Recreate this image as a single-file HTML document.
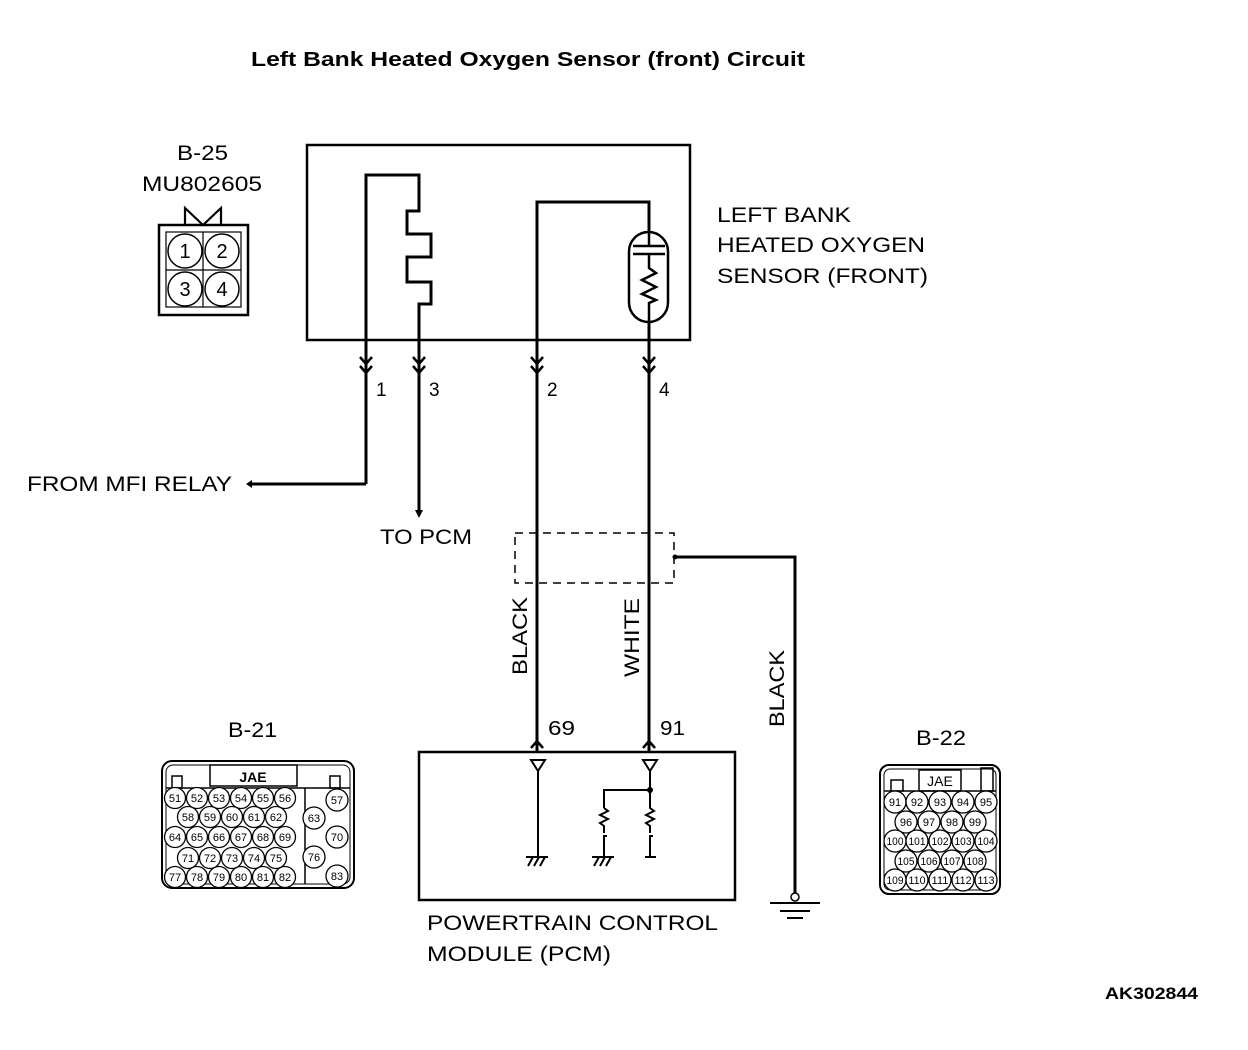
<!DOCTYPE html>
<html><head><meta charset="utf-8"><style>
html,body{margin:0;padding:0;background:#fff}
svg{display:block}
text{font-family:"Liberation Sans",Arial,sans-serif;fill:#000}
.p{font-size:11px;text-anchor:middle}
</style></head><body>
<svg width="1248" height="1050" viewBox="0 0 1248 1050" xmlns="http://www.w3.org/2000/svg">
<g fill="none" stroke="#000" stroke-width="3">
<rect x="307" y="145" width="383" height="195" stroke-width="2.5"/>
<polyline points="366,484 366,175 419,175 419,211 407,211 407,234 431,234 431,257 407,257 407,282 431,282 431,304 419,304 419,512"/>
<polyline points="537,752 537,202 649,202 649,752"/>
<polyline points="248,484 366,484"/>
<polyline points="675,557 795,557 795,893"/>
<rect x="419" y="752" width="316" height="148" stroke-width="2.5"/>
</g>
<rect x="629" y="232" width="39" height="90" rx="19.5" fill="#fff" stroke="#000" stroke-width="2.5"/>
<g stroke="#000" stroke-width="2.5" fill="none">
<line x1="649" y1="202" x2="649" y2="246"/>
<line x1="633" y1="246" x2="665" y2="246"/>
<line x1="633" y1="254" x2="665" y2="254"/>
<polyline points="649,254 649,268 656,273 642,280 656,287 642,294 656,300 649,303 649,340"/>
</g>
<g stroke="#000" stroke-width="2.5" fill="none">
<polyline points="360,357 366,364 372,357"/><polyline points="360,366 366,373 372,366"/>
<polyline points="413,357 419,364 425,357"/><polyline points="413,366 419,373 425,366"/>
<polyline points="531,357 537,364 543,357"/><polyline points="531,366 537,373 543,366"/>
<polyline points="643,357 649,364 655,357"/><polyline points="643,366 649,373 655,366"/>
<polyline points="531,748 537,741 543,748"/>
<polyline points="643,748 649,741 655,748"/>
</g>
<polygon points="415,510 423,510 419,518" fill="#000"/>
<polygon points="246,484 252,480 252,488" fill="#000"/>
<rect x="515" y="533" width="159" height="50" fill="none" stroke="#000" stroke-width="1.5" stroke-dasharray="8,6"/>
<circle cx="675" cy="557" r="2.5" fill="#000"/>
<circle cx="795" cy="897" r="4" fill="#fff" stroke="#000" stroke-width="1.5"/>
<g stroke="#000" stroke-width="2">
<line x1="770" y1="903" x2="820" y2="903"/>
<line x1="780" y1="911" x2="810" y2="911"/>
<line x1="787" y1="918" x2="803" y2="918"/>
</g>
<g stroke="#000" stroke-width="2" fill="none">
<polygon points="531,760 545,760 538,771"/>
<polygon points="643,760 657,760 650,771"/>
<line x1="538" y1="771" x2="538" y2="857"/>
<polyline points="650,771 650,790 604,790 604,808"/>
<polyline points="604,808 608,811 600,815 608,819 600,823 604,826 604,833"/>
<polyline points="650,790 650,808 654,811 646,815 654,819 646,823 650,826 650,833"/>
<polyline points="607,836 604,836 604,857"/>
<polyline points="653,836 650,836 650,857 645,857"/>
<line x1="650" y1="857" x2="656" y2="857"/>
<line x1="526" y1="857" x2="548" y2="857"/>
<line x1="528" y1="866" x2="533" y2="857"/><line x1="534" y1="866" x2="539" y2="857"/><line x1="540" y1="866" x2="545" y2="857"/>
<line x1="592" y1="857" x2="614" y2="857"/>
<line x1="594" y1="866" x2="599" y2="857"/><line x1="600" y1="866" x2="605" y2="857"/><line x1="606" y1="866" x2="611" y2="857"/>
</g>
<circle cx="650" cy="790" r="3" fill="#000"/>

<text x="251" y="66" font-size="20" font-weight="bold" textLength="554" lengthAdjust="spacingAndGlyphs">Left Bank Heated Oxygen Sensor (front) Circuit</text>
<text x="717" y="222" font-size="21" textLength="134" lengthAdjust="spacingAndGlyphs">LEFT BANK</text>
<text x="717" y="252" font-size="21" textLength="208" lengthAdjust="spacingAndGlyphs">HEATED OXYGEN</text>
<text x="717" y="283" font-size="21" textLength="211" lengthAdjust="spacingAndGlyphs">SENSOR (FRONT)</text>
<text x="376" y="396" font-size="19">1</text>
<text x="429" y="396" font-size="19">3</text>
<text x="547" y="396" font-size="19">2</text>
<text x="659" y="396" font-size="19">4</text>
<text x="27" y="491" font-size="21" textLength="205" lengthAdjust="spacingAndGlyphs">FROM MFI RELAY</text>
<text x="380" y="544" font-size="21" textLength="92" lengthAdjust="spacingAndGlyphs">TO PCM</text>
<text transform="translate(527,675) rotate(-90)" font-size="21" textLength="78" lengthAdjust="spacingAndGlyphs">BLACK</text>
<text transform="translate(639,677) rotate(-90)" font-size="21" textLength="79" lengthAdjust="spacingAndGlyphs">WHITE</text>
<text transform="translate(784,727) rotate(-90)" font-size="21" textLength="77" lengthAdjust="spacingAndGlyphs">BLACK</text>
<text x="548" y="735" font-size="20" textLength="27" lengthAdjust="spacingAndGlyphs">69</text>
<text x="660" y="735" font-size="20" textLength="25" lengthAdjust="spacingAndGlyphs">91</text>
<text x="427" y="930" font-size="21" textLength="291" lengthAdjust="spacingAndGlyphs">POWERTRAIN CONTROL</text>
<text x="427" y="961" font-size="21" textLength="184" lengthAdjust="spacingAndGlyphs">MODULE (PCM)</text>
<text x="1105" y="999" font-size="17" font-weight="bold" textLength="93" lengthAdjust="spacingAndGlyphs">AK302844</text>
<text x="177" y="160" font-size="21" textLength="51" lengthAdjust="spacingAndGlyphs">B-25</text>
<text x="142" y="191" font-size="21" textLength="120" lengthAdjust="spacingAndGlyphs">MU802605</text>
<text x="228" y="737" font-size="21" textLength="49" lengthAdjust="spacingAndGlyphs">B-21</text>
<text x="916" y="745" font-size="21" textLength="50" lengthAdjust="spacingAndGlyphs">B-22</text>

<g stroke="#000" fill="none">
<rect x="159" y="225" width="89" height="90" stroke-width="2.5"/>
<rect x="166" y="232" width="75" height="75" stroke-width="1.2"/>
<line x1="203" y1="232" x2="203" y2="307" stroke-width="1.2"/>
<line x1="166" y1="270" x2="241" y2="270" stroke-width="1.2"/>
<polyline points="185,225 185,208 203,225 221,208 221,225" stroke-width="2.2"/>
<circle cx="185" cy="251" r="17" stroke-width="1.5"/>
<circle cx="222" cy="251" r="17" stroke-width="1.5"/>
<circle cx="185" cy="289" r="17" stroke-width="1.5"/>
<circle cx="222" cy="289" r="17" stroke-width="1.5"/>
</g>
<text x="185" y="258" font-size="20" text-anchor="middle">1</text>
<text x="222" y="258" font-size="20" text-anchor="middle">2</text>
<text x="185" y="296" font-size="20" text-anchor="middle">3</text>
<text x="222" y="296" font-size="20" text-anchor="middle">4</text>

<g stroke="#000" fill="none" stroke-width="1.5">
<rect x="162" y="761" width="192" height="127" rx="10" stroke-width="2"/>
<rect x="166" y="765" width="184" height="119" rx="7" stroke-width="1"/>
<rect x="210" y="765" width="87" height="21" stroke-width="1.5"/>
<rect x="172" y="776" width="10" height="12"/>
<rect x="330" y="776" width="10" height="12"/>
<line x1="166" y1="788" x2="350" y2="788"/>
<line x1="305" y1="788" x2="305" y2="884"/>
</g>
<text x="253" y="782" font-size="14" font-weight="bold" text-anchor="middle">JAE</text>
<g fill="#fff" stroke="#000" stroke-width="1.3">
<circle cx="175" cy="798" r="10.5"/><circle cx="197" cy="798" r="10.5"/><circle cx="219" cy="798" r="10.5"/><circle cx="241" cy="798" r="10.5"/><circle cx="263" cy="798" r="10.5"/><circle cx="285" cy="798" r="10.5"/>
<circle cx="188" cy="817" r="10.5"/><circle cx="210" cy="817" r="10.5"/><circle cx="232" cy="817" r="10.5"/><circle cx="254" cy="817" r="10.5"/><circle cx="276" cy="817" r="10.5"/>
<circle cx="175" cy="837" r="10.5"/><circle cx="197" cy="837" r="10.5"/><circle cx="219" cy="837" r="10.5"/><circle cx="241" cy="837" r="10.5"/><circle cx="263" cy="837" r="10.5"/><circle cx="285" cy="837" r="10.5"/>
<circle cx="188" cy="858" r="10.5"/><circle cx="210" cy="858" r="10.5"/><circle cx="232" cy="858" r="10.5"/><circle cx="254" cy="858" r="10.5"/><circle cx="276" cy="858" r="10.5"/>
<circle cx="175" cy="877" r="10.5"/><circle cx="197" cy="877" r="10.5"/><circle cx="219" cy="877" r="10.5"/><circle cx="241" cy="877" r="10.5"/><circle cx="263" cy="877" r="10.5"/><circle cx="285" cy="877" r="10.5"/>
<circle cx="337" cy="800" r="11"/><circle cx="314" cy="818" r="11"/><circle cx="337" cy="837" r="11"/><circle cx="314" cy="857" r="11"/><circle cx="337" cy="876" r="11"/>
</g>
<g>
<text x="175" y="802" class="p">51</text><text x="197" y="802" class="p">52</text><text x="219" y="802" class="p">53</text><text x="241" y="802" class="p">54</text><text x="263" y="802" class="p">55</text><text x="285" y="802" class="p">56</text>
<text x="188" y="821" class="p">58</text><text x="210" y="821" class="p">59</text><text x="232" y="821" class="p">60</text><text x="254" y="821" class="p">61</text><text x="276" y="821" class="p">62</text>
<text x="175" y="841" class="p">64</text><text x="197" y="841" class="p">65</text><text x="219" y="841" class="p">66</text><text x="241" y="841" class="p">67</text><text x="263" y="841" class="p">68</text><text x="285" y="841" class="p">69</text>
<text x="188" y="862" class="p">71</text><text x="210" y="862" class="p">72</text><text x="232" y="862" class="p">73</text><text x="254" y="862" class="p">74</text><text x="276" y="862" class="p">75</text>
<text x="175" y="881" class="p">77</text><text x="197" y="881" class="p">78</text><text x="219" y="881" class="p">79</text><text x="241" y="881" class="p">80</text><text x="263" y="881" class="p">81</text><text x="285" y="881" class="p">82</text>
<text x="337" y="804" class="p">57</text><text x="314" y="822" class="p">63</text><text x="337" y="841" class="p">70</text><text x="314" y="861" class="p">76</text><text x="337" y="880" class="p">83</text>
</g>

<g stroke="#000" fill="none" stroke-width="1.5">
<rect x="880" y="765" width="120" height="129" rx="9" stroke-width="2"/>
<rect x="884" y="769" width="112" height="121" rx="6" stroke-width="1"/>
<rect x="919" y="770" width="42" height="21"/>
<rect x="891" y="780" width="12" height="11"/>
<rect x="981" y="768" width="12" height="23"/>
<line x1="884" y1="791" x2="996" y2="791"/>
</g>
<text x="940" y="786" font-size="14" text-anchor="middle">JAE</text>
<g fill="#fff" stroke="#000" stroke-width="1.3">
<circle cx="895" cy="802" r="11"/><circle cx="917" cy="802" r="11"/><circle cx="940" cy="802" r="11"/><circle cx="963" cy="802" r="11"/><circle cx="986" cy="802" r="11"/>
<circle cx="906" cy="822" r="11"/><circle cx="929" cy="822" r="11"/><circle cx="952" cy="822" r="11"/><circle cx="975" cy="822" r="11"/>
<circle cx="895" cy="841" r="11"/><circle cx="917" cy="841" r="11"/><circle cx="940" cy="841" r="11"/><circle cx="963" cy="841" r="11"/><circle cx="986" cy="841" r="11"/>
<circle cx="906" cy="861" r="11"/><circle cx="929" cy="861" r="11"/><circle cx="952" cy="861" r="11"/><circle cx="975" cy="861" r="11"/>
<circle cx="895" cy="880" r="11"/><circle cx="917" cy="880" r="11"/><circle cx="940" cy="880" r="11"/><circle cx="963" cy="880" r="11"/><circle cx="986" cy="880" r="11"/>
</g>
<g>
<text x="895" y="806" class="p">91</text><text x="917" y="806" class="p">92</text><text x="940" y="806" class="p">93</text><text x="963" y="806" class="p">94</text><text x="986" y="806" class="p">95</text>
<text x="906" y="826" class="p">96</text><text x="929" y="826" class="p">97</text><text x="952" y="826" class="p">98</text><text x="975" y="826" class="p">99</text>
<text x="895" y="845" class="p" textLength="17" lengthAdjust="spacingAndGlyphs">100</text><text x="917" y="845" class="p" textLength="17" lengthAdjust="spacingAndGlyphs">101</text><text x="940" y="845" class="p" textLength="17" lengthAdjust="spacingAndGlyphs">102</text><text x="963" y="845" class="p" textLength="17" lengthAdjust="spacingAndGlyphs">103</text><text x="986" y="845" class="p" textLength="17" lengthAdjust="spacingAndGlyphs">104</text>
<text x="906" y="865" class="p" textLength="17" lengthAdjust="spacingAndGlyphs">105</text><text x="929" y="865" class="p" textLength="17" lengthAdjust="spacingAndGlyphs">106</text><text x="952" y="865" class="p" textLength="17" lengthAdjust="spacingAndGlyphs">107</text><text x="975" y="865" class="p" textLength="17" lengthAdjust="spacingAndGlyphs">108</text>
<text x="895" y="884" class="p" textLength="17" lengthAdjust="spacingAndGlyphs">109</text><text x="917" y="884" class="p" textLength="17" lengthAdjust="spacingAndGlyphs">110</text><text x="940" y="884" class="p" textLength="17" lengthAdjust="spacingAndGlyphs">111</text><text x="963" y="884" class="p" textLength="17" lengthAdjust="spacingAndGlyphs">112</text><text x="986" y="884" class="p" textLength="17" lengthAdjust="spacingAndGlyphs">113</text>
</g>
</svg>
</body></html>
